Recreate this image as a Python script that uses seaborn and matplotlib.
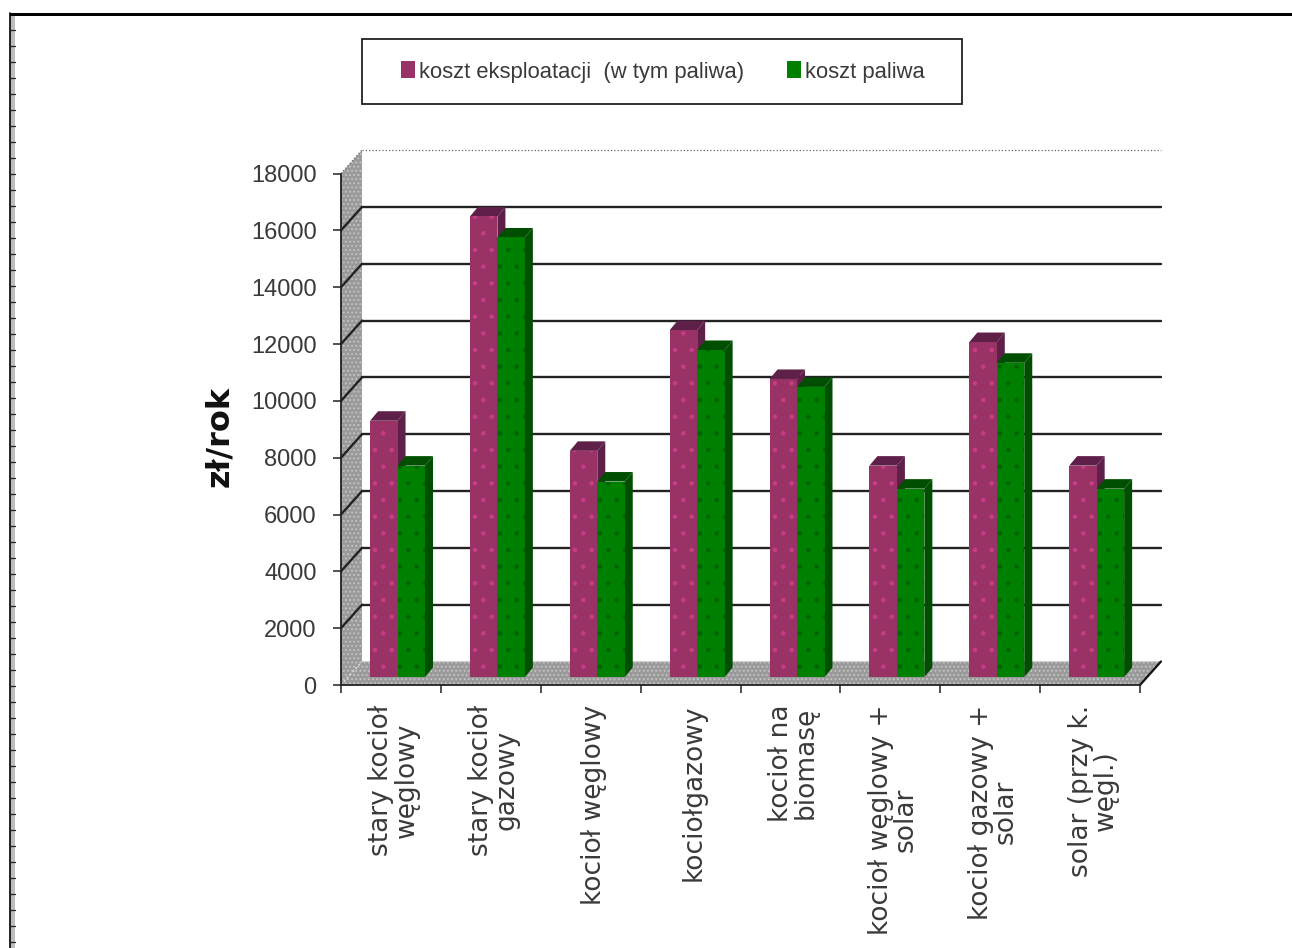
import matplotlib
matplotlib.use("Agg")
import matplotlib.pyplot as plt
from matplotlib.patches import Polygon, Rectangle
from matplotlib.lines import Line2D
import pandas as pd
import seaborn as sns

categories = ["stary kocioł\nwęglowy", "stary kocioł\ngazowy", "kocioł węglowy", "kociołgazowy",
              "kocioł na\nbiomasę", "kocioł węglowy +\nsolar", "kocioł gazowy +\nsolar", "solar (przy k.\nwęgl.)"]
series_names = ["koszt eksploatacji  (w tym paliwa)", "koszt paliwa"]
koszt_eksploatacji = [9020, 16210, 7960, 12210, 10490, 7440, 11790, 7440]
koszt_paliwa = [7440, 15470, 6880, 11510, 10210, 6630, 11060, 6630]
y_ticks = list(range(0, 18001, 2000))
y_label = "zł/rok"

W, H = 1292, 948
sns.set_theme(style="white")
plt.rcParams["font.family"] = ["Liberation Sans", "DejaVu Sans"]
plt.rcParams["hatch.linewidth"] = 0.8

PURPLE, PURPLE_D, PURPLE_DOT = "#993366", "#5e2048", "#c83c88"
GREEN, GREEN_D, GREEN_DOT = "#008000", "#004f00", "#006400"
WALL, WALL_DOT = "#9a9a9a", "#c6c6c6"
TXT = "#3a3a3a"

df = pd.DataFrame({
    "kat": categories * 2,
    "seria": [series_names[0]] * 8 + [series_names[1]] * 8,
    "wartosc": koszt_eksploatacji + koszt_paliwa,
})

fig = plt.figure(figsize=(W / 100, H / 100), dpi=100, facecolor="white")
ax = fig.add_axes([341 / W, 1 - 685 / H, 799 / W, 511.4 / H])
ax.set_facecolor("none")

sns.barplot(data=df, x="kat", y="wartosc", hue="seria", hue_order=series_names,
            order=categories, palette=[PURPLE, GREEN], width=0.55, dodge=True, saturation=1,
            errorbar=None, legend=False, ax=ax, linewidth=0)
ax.set_xlim(-0.5, 7.5)
ax.set_ylim(0, 18000)

PX_X = 8 / 799
PX_Y = 18000 / 511.4
WALL_DX, WALL_DY = 21 * PX_X, 23.5 * PX_Y
BAR_DX, BAR_DY = 8 * PX_X, 9.5 * PX_Y
BAR_X0, BAR_Y0 = 6.6 * PX_X, 8 * PX_Y
x0, x1 = -0.5, 7.5

# side wall and floor
ax.add_patch(Polygon([(x0, 0), (x0 + WALL_DX, WALL_DY), (x0 + WALL_DX, 18000 + WALL_DY), (x0, 18000)],
                     closed=True, facecolor=WALL, edgecolor=WALL_DOT, hatch="....", lw=0, clip_on=False, zorder=0.5))
ax.add_patch(Polygon([(x0, 0), (x1, 0), (x1 + WALL_DX, WALL_DY), (x0 + WALL_DX, WALL_DY)],
                     closed=True, facecolor=WALL, edgecolor=WALL_DOT, hatch="....", lw=0, clip_on=False, zorder=0.6))

# gridlines on the back and side walls
for v in y_ticks[1:]:
    top = v == y_ticks[-1]
    kw = dict(color="#666666", lw=0.9, ls=":") if top else dict(color="#222222", lw=1.7)
    ax.add_line(Line2D([x0 + WALL_DX, x1 + WALL_DX], [v + WALL_DY] * 2, clip_on=False, zorder=0.8, **kw))
    ax.add_line(Line2D([x0, x0 + WALL_DX], [v, v + WALL_DY], clip_on=False, zorder=0.8, **kw))
ax.add_line(Line2D([x1, x1 + WALL_DX], [0, WALL_DY], color="#111111", lw=1.6, clip_on=False, zorder=0.9))
ax.add_line(Line2D([x0, x0 + WALL_DX], [0, WALL_DY], color="#dddddd", lw=1.2, ls=":", clip_on=False, zorder=0.9))

# 3D faces built from the bars seaborn has drawn
n = len(categories)
bars = [q for q in ax.patches if isinstance(q, Rectangle) and q.get_zorder() == 1 and q.get_height() > 0]
for i, p in enumerate(bars):
    is_green = i >= n
    base = 3 + (2 if is_green else 0)
    p.set_x(p.get_x() + BAR_X0)
    p.set_y(BAR_Y0)
    p.set_zorder(base + 1)
    p.set_edgecolor(GREEN_DOT if is_green else PURPLE_DOT)
    p.set_hatch(".")
    p.set_linewidth(0)
    l, r, b, t = p.get_x(), p.get_x() + p.get_width(), BAR_Y0, BAR_Y0 + p.get_height()
    dark = GREEN_D if is_green else PURPLE_D
    ax.add_patch(Polygon([(r, b), (r + BAR_DX, b + BAR_DY), (r + BAR_DX, t + BAR_DY), (r, t)],
                         closed=True, facecolor=dark, lw=0, clip_on=False, zorder=base))
    ax.add_patch(Polygon([(l, t), (r, t), (r + BAR_DX, t + BAR_DY), (l + BAR_DX, t + BAR_DY)],
                         closed=True, facecolor=dark, lw=0, clip_on=False, zorder=base))

# axes
sns.despine(ax=ax, top=True, right=True)
for s in ("left", "bottom"):
    ax.spines[s].set_color("#222222")
    ax.spines[s].set_linewidth(1.3)
    ax.spines[s].set_zorder(10)
ax.set_yticks(y_ticks)
ax.set_yticklabels([str(v) for v in y_ticks], fontsize=17, color=TXT)
ax.set_xticks([i - 0.5 for i in range(n + 1)], minor=False)
ax.set_xticklabels([""] * (n + 1))
ax.tick_params(axis="y", direction="out", length=5.5, width=1.1, color="#222222", pad=12, left=True)
ax.tick_params(axis="x", direction="out", length=5.5, width=1.1, color="#222222", bottom=True)
ax.set_xlabel("")
ax.set_ylabel("")
for i, c in enumerate(categories):
    ax.annotate(c, xy=(i + 0.03, 0), xycoords=("data", "data"), xytext=(0, -14), textcoords="offset points",
                rotation=90, ha="center", va="top", ma="center", family=["DejaVu Sans"],
                fontsize=19, color=TXT, linespacing=0.95, annotation_clip=False)

fig.text(220 / W, 1 - 436 / H, y_label, rotation=90, ha="center", va="center",
         family=["DejaVu Sans"], fontweight="bold", fontsize=23, color="#111111")

# legend
fig.add_artist(Rectangle((362 / W, 1 - 104 / H), 600 / W, 65 / H, transform=fig.transFigure,
                         facecolor="white", edgecolor="#222222", lw=1.3))
handles = [Rectangle((0, 0), 1, 1, facecolor=PURPLE, lw=0), Rectangle((0, 0), 1, 1, facecolor=GREEN, lw=0)]
fig.legend(handles, series_names, ncol=2, frameon=False, loc="center left",
           bbox_to_anchor=(401 / W, 1 - 72 / H), borderpad=0, borderaxespad=0,
           handlelength=0.63, handleheight=0.8, handletextpad=0.2, columnspacing=1.95,
           prop={"size": 15.8}, labelcolor=TXT)

# page frame
fig.add_artist(Rectangle((10 / W, 1 - 16 / H), (W - 10) / W, 3.5 / H, transform=fig.transFigure,
                         facecolor="black", lw=0))
fig.add_artist(Rectangle((10 / W, 0), 5 / W, 1 - 16 / H, transform=fig.transFigure,
                         facecolor="#bdbdbd", lw=0))
fig.add_artist(Line2D([10 / W, 10 / W], [0, 1 - 13 / H], transform=fig.transFigure, color="black", lw=1.2))
for py in range(30, H, 16):
    fig.add_artist(Line2D([10 / W, 15 / W], [1 - py / H] * 2, transform=fig.transFigure, color="#222222", lw=0.9))

fig.savefig("out.png", dpi=100)
